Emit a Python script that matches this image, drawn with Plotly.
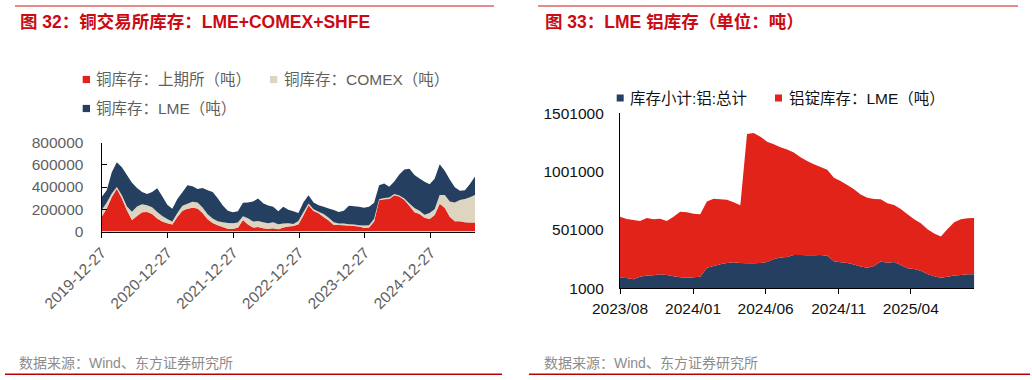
import plotly.graph_objects as go
import pandas as pd

W, H = 1032, 380

# ---------------- Left chart: copper exchange inventories (thousand tonnes) ----------------
cu_dates = pd.date_range("2019-12-27", periods=75, freq="28D")
cu_shfe = [133, 207, 311, 385, 296, 190, 104, 139, 172, 175,
           157, 116, 89, 74, 62, 130, 187, 204, 213, 207,
           166, 110, 77, 56, 40, 24, 24, 33, 104, 62,
           36, 41, 30, 24, 30, 21, 36, 44, 50, 65,
           145, 237, 184, 163, 130, 98, 59, 59, 57, 53,
           50, 44, 33, 36, 90, 280, 290, 293, 326, 314,
           284, 231, 172, 157, 124, 113, 148, 249, 213, 133,
           92, 92, 83, 80, 80]
cu_comex = [60, 54, 30, 15, 30, 35, 74, 85, 74, 62,
            62, 59, 50, 39, 27, 36, 44, 45, 54, 54,
            50, 44, 39, 36, 43, 53, 50, 47, 32, 57,
            53, 54, 53, 50, 53, 44, 35, 30, 18, 30,
            30, 15, 17, 15, 27, 26, 24, 12, 15, 12,
            12, 12, 20, 20, 25, 10, 10, 12, 10, 10,
            12, 21, 39, 30, 27, 53, 53, 80, 116, 137,
            169, 192, 210, 228, 249]
cu_lme = [118, 109, 192, 222, 252, 282, 261, 167, 110, 101,
          137, 213, 178, 127, 115, 127, 122, 166, 139, 121,
          175, 216, 240, 207, 150, 110, 98, 101, 122, 142,
          181, 201, 172, 160, 139, 116, 151, 122, 113, 71,
          89, 74, 60, 59, 65, 83, 110, 104, 115, 166,
          166, 166, 160, 166, 143, 125, 132, 98, 114, 189,
          261, 311, 296, 290, 296, 258, 273, 275, 216, 198,
          136, 83, 77, 119, 165]
cu_tick_labels = ["2019-12-27", "2020-12-27", "2021-12-27",
                  "2022-12-27", "2023-12-27", "2024-12-27"]
cu_y_ticks = [0, 200000, 400000, 600000, 800000]
cu_names = ["铜库存：上期所（吨）", "铜库存：COMEX（吨）", "铜库存：LME（吨）"]

# ---------------- Right chart: aluminium inventories (thousand tonnes) ----------------
al_dates = pd.date_range("2023-08-01", periods=54, freq="14D")
al_shfe_total = [92, 90, 78, 101, 110, 112, 121, 115, 104, 95,
                 92, 95, 101, 178, 192, 207, 218, 224, 218, 215,
                 215, 218, 227, 252, 264, 270, 287, 287, 284, 284,
                 287, 281, 232, 224, 218, 204, 187, 178, 192, 230,
                 221, 227, 201, 172, 167, 152, 124, 104, 92, 101,
                 110, 115, 121, 121]
al_lme = [523, 506, 509, 477, 494, 480, 477, 463, 511, 563,
          560, 546, 534, 566, 577, 557, 543, 514, 494, 1109,
          1117, 1083, 1031, 983, 946, 920, 877, 837, 809, 780,
          754, 737, 717, 697, 669, 646, 617, 600, 574, 534,
          509, 489, 480, 463, 426, 406, 383, 366, 354, 409,
          457, 477, 480, 483]
al_tick_dates = ["2023-08-01", "2024-01-01", "2024-06-01", "2024-11-01", "2025-04-01"]
al_tick_labels = ["2023/08", "2024/01", "2024/06", "2024/11", "2025/04"]
al_y_ticks = [1000, 501000, 1001000, 1501000]
al_names = ["库存小计:铝:总计", "铝锭库存：LME（吨）"]

RED = "#E2231A"
NAVY = "#243F60"
BEIGE = "#DDD5C0"
TITLE_RED = "#CC0A14"
FONT = "Liberation Sans, Noto Sans CJK SC, sans-serif"


def px(x):
    return x / W


def py(y):
    return 1 - y / H


fig = go.Figure()

for vals, name, col in zip([cu_shfe, cu_comex, cu_lme], cu_names, [RED, BEIGE, NAVY]):
    fig.add_trace(go.Scatter(
        x=cu_dates, y=[v * 1000 for v in vals], name=name,
        stackgroup="cu", mode="none", fillcolor=col,
        line=dict(width=0), xaxis="x", yaxis="y", showlegend=False))

for vals, name, col in zip([al_shfe_total, al_lme], al_names, [NAVY, RED]):
    fig.add_trace(go.Scatter(
        x=al_dates, y=[v * 1000 for v in vals], name=name,
        stackgroup="al", mode="none", fillcolor=col,
        line=dict(width=0), xaxis="x2", yaxis="y2", showlegend=False))

axis_common = dict(showgrid=False, zeroline=False, showline=True,
                   linecolor="black", linewidth=1.3,
                   tickcolor="black", tickwidth=1.3, automargin=False)

fig.update_layout(
    width=W, height=H, margin=dict(l=0, r=0, t=0, b=0, pad=0, autoexpand=False),
    paper_bgcolor="white", plot_bgcolor="white",
    font=dict(family=FONT),
    showlegend=False,
    xaxis=dict(domain=[px(101.7), px(475)], anchor="y", type="date",
               range=[cu_dates[0], cu_dates[-1]],
               tickmode="array", tickvals=cu_tick_labels, ticktext=cu_tick_labels,
               tickangle=-45, ticks="outside", ticklen=5,
               tickfont=dict(size=15.5, color="#5f5f5f", family=FONT),
               **axis_common),
    yaxis=dict(domain=[py(231.5), py(142.5)], anchor="x",
               range=[0, 800000], tickmode="array", tickvals=cu_y_ticks,
               ticktext=[str(v) for v in cu_y_ticks],
               ticks="inside", ticklen=5, ticklabelstandoff=14,
               tickfont=dict(size=15.5, color="#5f5f5f", family=FONT),
               **axis_common),
    xaxis2=dict(domain=[px(620), px(974.3)], anchor="y2", type="date",
                range=[al_dates[0], al_dates[-1]],
                tickmode="array", tickvals=al_tick_dates, ticktext=al_tick_labels,
                tickangle=0, ticks="outside", ticklen=5, ticklabelstandoff=1,
                tickfont=dict(size=15.5, color="#111111", family=FONT),
                **axis_common),
    yaxis2=dict(domain=[py(288.3), py(113.3)], anchor="x2",
                range=[1000, 1501000], tickmode="array", tickvals=al_y_ticks,
                ticktext=[str(v) for v in al_y_ticks],
                ticks="", ticklabelstandoff=12,
                tickfont=dict(size=15.5, color="#111111", family=FONT),
                **axis_common),
)

shapes = []
annotations = []

# Titles and rules
annotations.append(dict(x=px(18), y=py(22), xref="paper", yref="paper",
                        xanchor="left", yanchor="middle", showarrow=False,
                        text="<b>图 32：铜交易所库存：LME+COMEX+SHFE</b>",
                        font=dict(size=17.5, color=TITLE_RED, family=FONT)))
annotations.append(dict(x=px(543), y=py(22), xref="paper", yref="paper",
                        xanchor="left", yanchor="middle", showarrow=False,
                        text="<b>图 33：LME 铝库存（单位：吨）</b>",
                        font=dict(size=17.5, color=TITLE_RED, family=FONT)))
for x0, x1 in [(15, 494), (538, 1018)]:
    shapes.append(dict(type="line", xref="paper", yref="paper",
                       x0=px(x0), x1=px(x1), y0=py(6), y1=py(6),
                       line=dict(color="#D01818", width=1)))
for x0, x1 in [(5, 502), (529, 1030)]:
    shapes.append(dict(type="line", xref="paper", yref="paper",
                       x0=px(x0), x1=px(x1), y0=py(374.3), y1=py(374.3),
                       line=dict(color="#B80000", width=1.5)))

# Footers
for x0 in [16.7, 541.7]:
    annotations.append(dict(x=px(x0), y=py(363.3), xref="paper", yref="paper",
                            xanchor="left", yanchor="middle", showarrow=False,
                            text="数据来源：Wind、东方证券研究所",
                            font=dict(size=14, color="#8c8c8c", family=FONT)))

# Left legend (manual)
cu_leg = [(82.7, 79.5, RED, cu_names[0]), (270, 79.5, BEIGE, cu_names[1]),
          (82.7, 108.5, NAVY, cu_names[2])]
for x0, yc, col, name in cu_leg:
    shapes.append(dict(type="rect", xref="paper", yref="paper",
                       x0=px(x0), x1=px(x0 + 7.3), y0=py(yc + 3.6), y1=py(yc - 3.6),
                       fillcolor=col, line=dict(width=0)))
    annotations.append(dict(x=px(x0 + 11.5), y=py(yc), xref="paper", yref="paper",
                            xanchor="left", yanchor="middle", showarrow=False,
                            text=name, font=dict(size=15.5, color="#5f5f5f", family=FONT)))

# Right legend (manual)
al_leg = [(616.7, 98, NAVY, al_names[0]), (775, 98, RED, al_names[1])]
for x0, yc, col, name in al_leg:
    shapes.append(dict(type="rect", xref="paper", yref="paper",
                       x0=px(x0), x1=px(x0 + 7), y0=py(yc + 3.5), y1=py(yc - 3.5),
                       fillcolor=col, line=dict(width=0)))
    annotations.append(dict(x=px(x0 + 11.5), y=py(yc), xref="paper", yref="paper",
                            xanchor="left", yanchor="middle", showarrow=False,
                            text=name, font=dict(size=15.5, color="#111111", family=FONT)))

fig.update_layout(shapes=shapes, annotations=annotations)

fig.write_html("out.html",
               config={"displayModeBar": False},
               post_script="document.body.style.margin='0';document.body.style.overflow='hidden';")
